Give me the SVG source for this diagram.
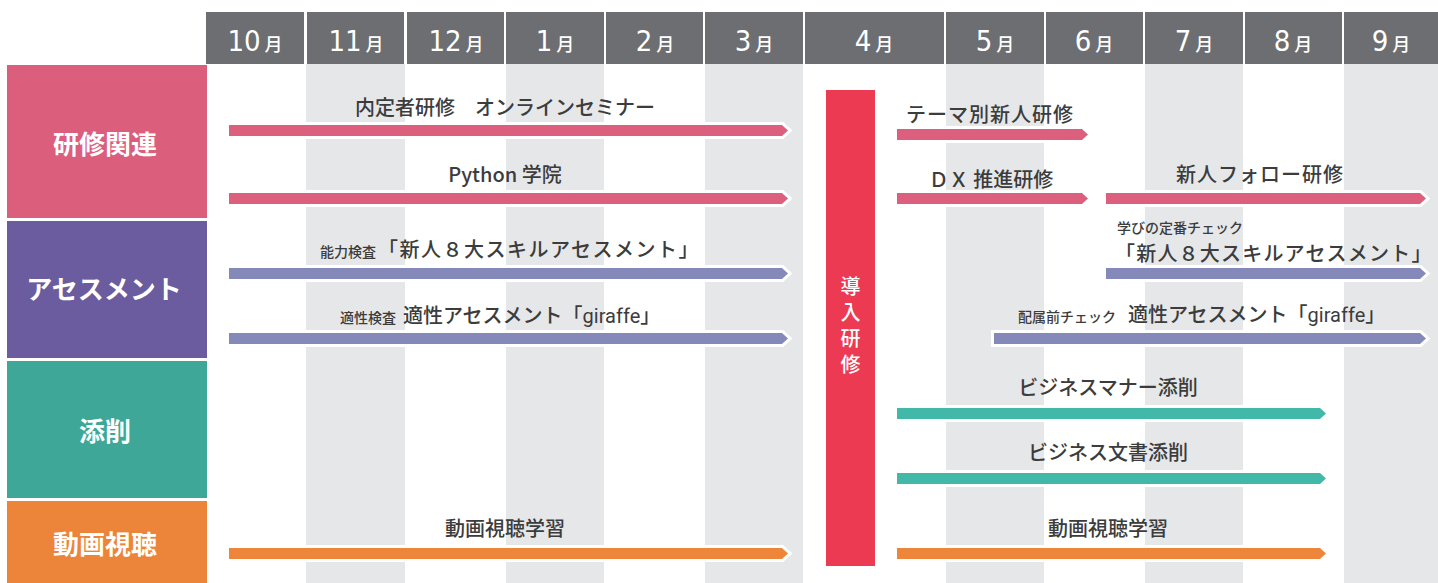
<svg xmlns="http://www.w3.org/2000/svg" width="1438" height="583" viewBox="0 0 1438 583">
<style>
.hd{fill:#6d6e71}
.st{fill:#e6e7e8}
.num{font-family:"DejaVu Sans Condensed","DejaVu Sans",sans-serif;font-size:29px;fill:#fff}
.mo{font-family:"Noto Sans CJK JP",sans-serif;font-size:18px;fill:#fff;font-weight:500}
.cat{font-family:"Noto Sans CJK JP",sans-serif;font-size:26px;fill:#fff;font-weight:700;text-anchor:middle}
.lb{font-family:"Noto Sans CJK JP",sans-serif;font-size:20px;fill:#3c3c3c;font-weight:500}
.sm{font-family:"Noto Sans CJK JP",sans-serif;font-size:14px;fill:#3c3c3c;font-weight:500}
.lat{font-family:"Roboto","Liberation Sans",sans-serif;font-weight:400}
.bar{stroke:#fff;stroke-width:6;paint-order:stroke;stroke-linejoin:miter}
.pk{fill:#dc5f7e}.pu{fill:#8489b9}.tl{fill:#42b8a9}.or{fill:#ed853a}
.vt{font-family:"Noto Sans CJK JP",sans-serif;font-size:20px;fill:#fff;font-weight:500;writing-mode:tb;letter-spacing:6px}
</style>
<rect width="1438" height="583" fill="#fff"/>
<g id="stripes">
<rect class="st" x="306" y="64" width="99" height="519"/>
<rect class="st" x="506" y="64" width="98" height="519"/>
<rect class="st" x="705" y="64" width="98" height="519"/>
<rect class="st" x="946" y="64" width="98" height="519"/>
<rect class="st" x="1145" y="64" width="98" height="519"/>
<rect class="st" x="1344" y="64" width="94" height="519"/>
</g>
<g id="header">
<rect class="hd" x="206" y="12" width="98" height="52"/>
<rect class="hd" x="307" y="12" width="97" height="52"/>
<rect class="hd" x="407" y="12" width="97" height="52"/>
<rect class="hd" x="506" y="12" width="98" height="52"/>
<rect class="hd" x="606" y="12" width="97" height="52"/>
<rect class="hd" x="705" y="12" width="98" height="52"/>
<rect class="hd" x="805" y="12" width="139" height="52"/>
<rect class="hd" x="946" y="12" width="98" height="52"/>
<rect class="hd" x="1046" y="12" width="97" height="52"/>
<rect class="hd" x="1145" y="12" width="98" height="52"/>
<rect class="hd" x="1245" y="12" width="97" height="52"/>
<rect class="hd" x="1344" y="12" width="94" height="52"/>
<text x="255" y="51" text-anchor="middle"><tspan class="num">10</tspan><tspan class="mo" dx="4">月</tspan></text>
<text x="356" y="51" text-anchor="middle"><tspan class="num">11</tspan><tspan class="mo" dx="4">月</tspan></text>
<text x="456" y="51" text-anchor="middle"><tspan class="num">12</tspan><tspan class="mo" dx="4">月</tspan></text>
<text x="555" y="51" text-anchor="middle"><tspan class="num">1</tspan><tspan class="mo" dx="4">月</tspan></text>
<text x="655" y="51" text-anchor="middle"><tspan class="num">2</tspan><tspan class="mo" dx="4">月</tspan></text>
<text x="754" y="51" text-anchor="middle"><tspan class="num">3</tspan><tspan class="mo" dx="4">月</tspan></text>
<text x="874" y="51" text-anchor="middle"><tspan class="num">4</tspan><tspan class="mo" dx="4">月</tspan></text>
<text x="995" y="51" text-anchor="middle"><tspan class="num">5</tspan><tspan class="mo" dx="4">月</tspan></text>
<text x="1094" y="51" text-anchor="middle"><tspan class="num">6</tspan><tspan class="mo" dx="4">月</tspan></text>
<text x="1194" y="51" text-anchor="middle"><tspan class="num">7</tspan><tspan class="mo" dx="4">月</tspan></text>
<text x="1293" y="51" text-anchor="middle"><tspan class="num">8</tspan><tspan class="mo" dx="4">月</tspan></text>
<text x="1391" y="51" text-anchor="middle"><tspan class="num">9</tspan><tspan class="mo" dx="4">月</tspan></text>
</g>
<g id="cat-kenshu"><rect x="7" y="65" width="200" height="153" fill="#db5f7d"/><text class="cat" x="105" y="154">研修関連</text></g>
<g id="cat-assess"><rect x="7" y="221" width="200" height="137" fill="#6b5b9f"/><text class="cat" x="104" y="299">アセスメント</text></g>
<g id="cat-tensaku"><rect x="7" y="361" width="200" height="137" fill="#3ea797"/><text class="cat" x="105" y="441">添削</text></g>
<g id="cat-douga"><rect x="7" y="501" width="200" height="82" fill="#ec843a"/><text class="cat" x="105" y="554">動画視聴</text></g>
<g id="connectors">
<polygon class="bar pk" points="229,125 782,125 788,130.5 782,136 229,136"/>
<polygon class="bar pk" points="229,193 782,193 788,198.5 782,204 229,204"/>
<polygon class="bar pu" points="229,268 782,268 788,273.5 782,279 229,279"/>
<polygon class="bar pu" points="229,333 782,333 788,338.5 782,344 229,344"/>
<polygon class="bar or" points="229,548 782,548 788,553.5 782,559 229,559"/>
<polygon class="bar pk" points="897,129 1082,129 1088,134.5 1082,140 897,140"/>
<polygon class="bar pk" points="897,193 1082,193 1088,198.5 1082,204 897,204"/>
<polygon class="bar pk" points="1106,193 1420,193 1426,198.5 1420,204 1106,204"/>
<polygon class="bar pu" points="1106,268 1420,268 1426,273.5 1420,279 1106,279"/>
<polygon class="bar pu" points="994,333 1420,333 1426,338.5 1420,344 994,344"/>
<polygon class="bar tl" points="897,408 1320,408 1326,413.5 1320,419 897,419"/>
<polygon class="bar tl" points="897,473 1320,473 1326,478.5 1320,484 897,484"/>
<polygon class="bar or" points="897,548 1320,548 1326,553.5 1320,559 897,559"/>
</g>
<g id="dounyu"><rect x="826" y="90" width="49" height="476" fill="#ec3a52"/>
<text class="vt" x="850.5" y="276">導入研修</text></g>
<g id="labels">
<text class="lb" x="505" y="115" text-anchor="middle">内定者研修　オンラインセミナー</text>
<text class="lb" x="505" y="182" text-anchor="middle">Python 学院</text>
<text x="320" y="257"><tspan class="sm">能力検査</tspan><tspan class="lb" dx="2" letter-spacing="1.5">「新人８大スキルアセスメント」</tspan></text>
<text x="340" y="323"><tspan class="sm">適性検査</tspan><tspan class="lb" dx="7">適性アセスメント「</tspan><tspan class="lb lat">giraffe</tspan><tspan class="lb">」</tspan></text>
<text class="lb" x="990" y="122" text-anchor="middle" letter-spacing="1">テーマ別新人研修</text>
<text class="lb" x="991" y="187" text-anchor="middle">ＤＸ 推進研修</text>
<text class="lb" x="1260" y="182" text-anchor="middle" letter-spacing="1">新人フォロー研修</text>
<text class="sm" x="1117" y="233">学びの定番チェック</text>
<text class="lb" x="1115" y="261" letter-spacing="1.2">「新人８大スキルアセスメント」</text>
<text x="1018" y="322"><tspan class="sm">配属前チェック</tspan><tspan class="lb" dx="12">適性アセスメント「</tspan><tspan class="lb lat">giraffe</tspan><tspan class="lb">」</tspan></text>
<text class="lb" x="1108" y="395" text-anchor="middle">ビジネスマナー添削</text>
<text class="lb" x="1108" y="460" text-anchor="middle">ビジネス文書添削</text>
<text class="lb" x="1108" y="536" text-anchor="middle">動画視聴学習</text>
<text class="lb" x="505" y="536" text-anchor="middle">動画視聴学習</text>
</g>
</svg>
